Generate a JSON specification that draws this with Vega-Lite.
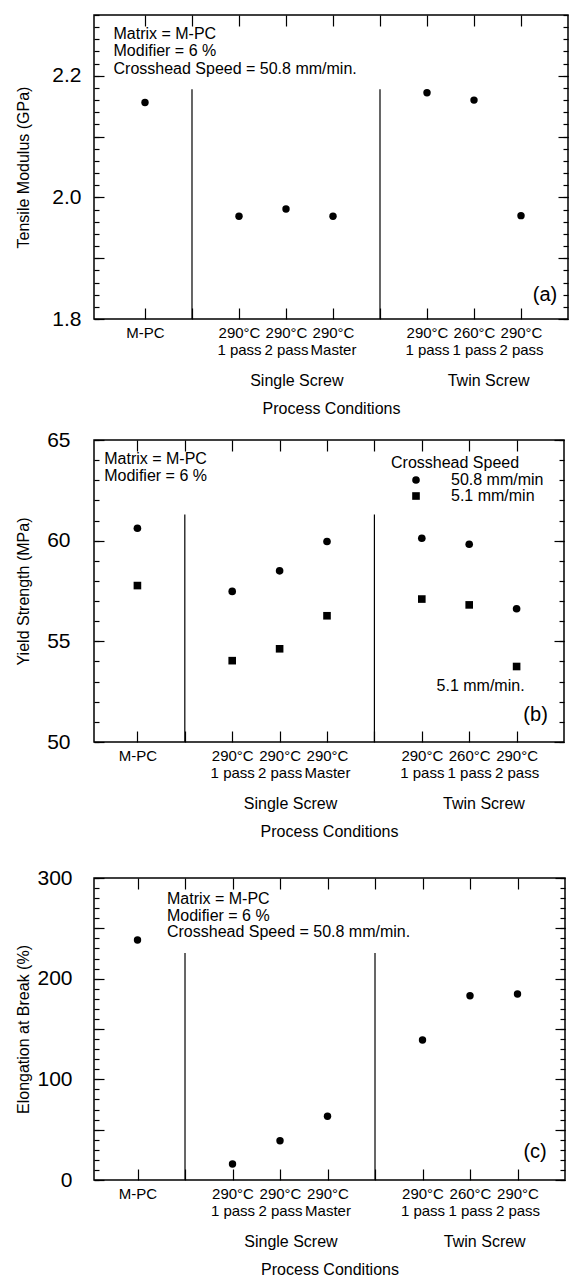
{
  "$schema": "https://vega.github.io/schema/vega-lite/v6.json",
  "padding": {"left": 14, "top": 13, "right": 2, "bottom": 2},
  "background": "white",
  "columns": 1,
  "spacing": 11,
  "resolve": {"scale": {"shape": "independent"}, "legend": {"shape": "independent"}},
  "config": {
    "font": "Liberation Sans",
    "view": {"stroke": "black", "strokeWidth": 1.5},
    "axis": {"domain": false, "grid": false, "tickColor": "black", "tickWidth": 1.2, "labelColor": "black", "titleColor": "black", "titleFontWeight": "normal", "labelFont": "Liberation Sans", "titleFont": "Liberation Sans", "labelFontSize": 16, "titleFontSize": 16, "labelOverlap": false, "labelFlush": false, "labelBound": false},
    "legend": {"labelFont": "Liberation Sans", "titleFont": "Liberation Sans", "labelColor": "black", "titleColor": "black"},
    "text": {"font": "Liberation Sans", "fontSize": 16, "color": "black"}
  },
  "datasets": {
    "tensile": [
      {"condition": "M-PC", "pos": 1, "val": 2.156},
      {"condition": "Single 290C 1 pass", "pos": 3, "val": 1.969},
      {"condition": "Single 290C 2 pass", "pos": 4, "val": 1.981},
      {"condition": "Single 290C Master", "pos": 5, "val": 1.969},
      {"condition": "Twin 290C 1 pass", "pos": 7, "val": 2.172},
      {"condition": "Twin 260C 1 pass", "pos": 8, "val": 2.160},
      {"condition": "Twin 290C 2 pass", "pos": 9, "val": 1.970}
    ],
    "yield": [
      {"condition": "M-PC", "pos": 1, "val": 60.62, "speed": "50.8 mm/min"},
      {"condition": "M-PC", "pos": 1, "val": 57.77, "speed": "5.1 mm/min"},
      {"condition": "Single 290C 1 pass", "pos": 3, "val": 57.48, "speed": "50.8 mm/min"},
      {"condition": "Single 290C 1 pass", "pos": 3, "val": 54.04, "speed": "5.1 mm/min"},
      {"condition": "Single 290C 2 pass", "pos": 4, "val": 58.5, "speed": "50.8 mm/min"},
      {"condition": "Single 290C 2 pass", "pos": 4, "val": 54.63, "speed": "5.1 mm/min"},
      {"condition": "Single 290C Master", "pos": 5, "val": 59.96, "speed": "50.8 mm/min"},
      {"condition": "Single 290C Master", "pos": 5, "val": 56.27, "speed": "5.1 mm/min"},
      {"condition": "Twin 290C 1 pass", "pos": 7, "val": 60.12, "speed": "50.8 mm/min"},
      {"condition": "Twin 290C 1 pass", "pos": 7, "val": 57.1, "speed": "5.1 mm/min"},
      {"condition": "Twin 260C 1 pass", "pos": 8, "val": 59.82, "speed": "50.8 mm/min"},
      {"condition": "Twin 260C 1 pass", "pos": 8, "val": 56.81, "speed": "5.1 mm/min"},
      {"condition": "Twin 290C 2 pass", "pos": 9, "val": 56.62, "speed": "50.8 mm/min"},
      {"condition": "Twin 290C 2 pass", "pos": 9, "val": 53.75, "speed": "5.1 mm/min"}
    ],
    "elong": [
      {"condition": "M-PC", "pos": 1, "val": 238.4},
      {"condition": "Single 290C 1 pass", "pos": 3, "val": 15.9},
      {"condition": "Single 290C 2 pass", "pos": 4, "val": 39.0},
      {"condition": "Single 290C Master", "pos": 5, "val": 63.3},
      {"condition": "Twin 290C 1 pass", "pos": 7, "val": 139.1},
      {"condition": "Twin 260C 1 pass", "pos": 8, "val": 183.1},
      {"condition": "Twin 290C 2 pass", "pos": 9, "val": 184.8}
    ],
    "div_a": [{"pos": 2, "lo": 1.8, "hi": 2.178}, {"pos": 6, "lo": 1.8, "hi": 2.178}],
    "div_b": [{"pos": 2, "lo": 50, "hi": 61.3}, {"pos": 6, "lo": 50, "hi": 61.3}],
    "div_c": [{"pos": 2, "lo": 0, "hi": 225.4}, {"pos": 6, "lo": 0, "hi": 225.4}],
    "notes_a": [
      {"pos": 0.33, "val": 2.269, "text": "Matrix = M-PC"},
      {"pos": 0.33, "val": 2.241, "text": "Modifier = 6 %"},
      {"pos": 0.33, "val": 2.211, "text": "Crosshead Speed = 50.8 mm/min."}
    ],
    "notes_b": [
      {"pos": 0.3, "val": 64.04, "text": "Matrix = M-PC"},
      {"pos": 0.3, "val": 63.21, "text": "Modifier = 6 %"}
    ],
    "notes_c": [
      {"pos": 1.62, "val": 279.1, "text": "Matrix = M-PC"},
      {"pos": 1.62, "val": 262.5, "text": "Modifier = 6 %"},
      {"pos": 1.62, "val": 246.0, "text": "Crosshead Speed = 50.8 mm/min."}
    ],
    "tag_a": [{"pos": 9.51, "val": 1.839, "text": "(a)"}],
    "tag_b": [{"pos": 9.4, "val": 51.34, "text": "(b)"}, {"pos": 8.24, "val": 52.79, "text": "5.1 mm/min."}],
    "tag_c": [{"pos": 9.37, "val": 27.5, "text": "(c)"}]
  },
  "concat": [
    {
      "width": 474,
      "height": 304,
      "layer": [
        {
          "data": {"name": "tensile"},
          "mark": {"type": "point", "filled": true, "shape": "circle", "size": 55, "color": "black", "opacity": 1},
          "encoding": {
            "x": {"field": "pos", "type": "quantitative", "scale": {"domain": [-0.085, 10], "nice": false, "zero": false},
              "axis": {"orient": "bottom", "values": [1, 2, 3, 4, 5, 6, 7, 8, 9], "tickSize": -11, "labelPadding": 17, "labelLineHeight": 17, "labelFontSize": 15, "title": null,
                "labelExpr": "datum.value == 1 ? 'M-PC' : datum.value == 3 ? ['290°C', '1 pass'] : datum.value == 4 ? ['290°C', '2 pass'] : datum.value == 5 ? ['290°C', 'Master'] : datum.value == 7 ? ['290°C', '1 pass'] : datum.value == 8 ? ['260°C', '1 pass'] : datum.value == 9 ? ['290°C', '2 pass'] : ''"}},
            "y": {"field": "val", "type": "quantitative", "scale": {"domain": [1.8, 2.3], "nice": false, "zero": false},
              "axis": {"orient": "left", "values": [1.8, 1.9, 2.0, 2.1, 2.2], "tickSize": -10, "labelFontSize": 21, "labelPadding": 23, "labelExpr": "abs(datum.value*10 - round(datum.value*5)*2) < 0.01 ? format(datum.value, '.1f') : ''", "title": "Tensile Modulus (GPa)", "titlePadding": 20}}
          }
        },
        {
          "data": {"name": "div_a"},
          "mark": {"type": "rule", "color": "black", "strokeWidth": 1.2},
          "encoding": {
            "x": {"field": "pos", "type": "quantitative", "scale": {"domain": [-0.085, 10], "nice": false, "zero": false},
              "axis": {"orient": "bottom", "values": [4.22, 8.3], "ticks": false, "labelPadding": 53, "labelExpr": "datum.value < 6 ? 'Single Screw' : 'Twin Screw'", "title": "Process Conditions", "titlePadding": 12, "titleDx": 57}},
            "y": {"field": "lo", "type": "quantitative", "scale": {"domain": [1.8, 2.3], "nice": false, "zero": false},
              "axis": {"orient": "left", "values": [1.8, 1.82, 1.84, 1.86, 1.88, 1.9, 1.92, 1.94, 1.96, 1.98, 2.0, 2.02, 2.04, 2.06, 2.08, 2.1, 2.12, 2.14, 2.16, 2.18, 2.2, 2.22, 2.24, 2.26, 2.28, 2.3], "tickSize": -5, "labels": false, "title": null}},
            "y2": {"field": "hi"}
          }
        },
        {
          "data": {"name": "notes_a"},
          "mark": {"type": "text", "align": "left", "baseline": "middle", "fontSize": 16},
          "encoding": {
            "x": {"field": "pos", "type": "quantitative", "scale": {"domain": [-0.085, 10], "nice": false, "zero": false},
              "axis": {"orient": "top", "values": [1, 2, 3, 4, 5, 6, 7, 8, 9], "tickSize": -11, "labels": false, "title": null}},
            "y": {"field": "val", "type": "quantitative", "scale": {"domain": [1.8, 2.3], "nice": false, "zero": false},
              "axis": {"orient": "right", "values": [1.8, 1.9, 2.0, 2.1, 2.2], "tickSize": -10, "labels": false, "title": null}},
            "text": {"field": "text"}
          }
        },
        {
          "data": {"name": "tag_a"},
          "mark": {"type": "text", "align": "center", "baseline": "middle", "fontSize": 20},
          "encoding": {
            "x": {"field": "pos", "type": "quantitative", "scale": {"domain": [-0.085, 10], "nice": false, "zero": false}, "axis": null},
            "y": {"field": "val", "type": "quantitative", "scale": {"domain": [1.8, 2.3], "nice": false, "zero": false},
              "axis": {"orient": "right", "values": [1.8, 1.82, 1.84, 1.86, 1.88, 1.9, 1.92, 1.94, 1.96, 1.98, 2.0, 2.02, 2.04, 2.06, 2.08, 2.1, 2.12, 2.14, 2.16, 2.18, 2.2, 2.22, 2.24, 2.26, 2.28, 2.3], "tickSize": -5, "labels": false, "title": null}},
            "text": {"field": "text"}
          }
        }
      ],
      "resolve": {"axis": {"x": "independent", "y": "independent"}}
    },
    {
      "width": 470,
      "height": 302,
      "layer": [
        {
          "data": {"name": "yield"},
          "mark": {"type": "point", "filled": true, "size": 58, "color": "black", "opacity": 1},
          "encoding": {
            "x": {"field": "pos", "type": "quantitative", "scale": {"domain": [0.084, 10], "nice": false, "zero": false},
              "axis": {"orient": "bottom", "values": [1, 2, 3, 4, 5, 6, 7, 8, 9], "tickSize": -11, "labelPadding": 17, "labelLineHeight": 17, "labelFontSize": 15, "title": null,
                "labelExpr": "datum.value == 1 ? 'M-PC' : datum.value == 3 ? ['290°C', '1 pass'] : datum.value == 4 ? ['290°C', '2 pass'] : datum.value == 5 ? ['290°C', 'Master'] : datum.value == 7 ? ['290°C', '1 pass'] : datum.value == 8 ? ['260°C', '1 pass'] : datum.value == 9 ? ['290°C', '2 pass'] : ''"}},
            "y": {"field": "val", "type": "quantitative", "scale": {"domain": [50, 65], "nice": false, "zero": false},
              "axis": {"orient": "left", "values": [50, 55, 60, 65], "tickSize": -10, "labelFontSize": 21, "labelPadding": 34, "title": "Yield Strength (MPa)", "titlePadding": 15}},
            "shape": {"field": "speed", "type": "nominal", "scale": {"domain": ["50.8 mm/min", "5.1 mm/min"], "range": ["circle", "square"]},
              "legend": {"title": "Crosshead Speed", "orient": "none", "legendX": 297, "legendY": 15, "titleFontSize": 16, "titleFontWeight": "normal", "labelFontSize": 16, "symbolSize": 58, "symbolFillColor": "black", "symbolStrokeColor": "black", "symbolOffset": 17, "labelOffset": 27, "rowPadding": 0, "titlePadding": 1}}
          }
        },
        {
          "data": {"name": "div_b"},
          "mark": {"type": "rule", "color": "black", "strokeWidth": 1.2},
          "encoding": {
            "x": {"field": "pos", "type": "quantitative", "scale": {"domain": [0.084, 10], "nice": false, "zero": false},
              "axis": {"orient": "bottom", "values": [4.22, 8.3], "ticks": false, "labelPadding": 53, "labelExpr": "datum.value < 6 ? 'Single Screw' : 'Twin Screw'", "title": ["Process Conditions", " "], "titleLineHeight": 15, "titlePadding": 12, "titleDx": 57}},
            "y": {"field": "lo", "type": "quantitative", "scale": {"domain": [50, 65], "nice": false, "zero": false},
              "axis": {"orient": "left", "values": [50, 51, 52, 53, 54, 55, 56, 57, 58, 59, 60, 61, 62, 63, 64, 65], "tickSize": -5, "labels": false, "title": null}},
            "y2": {"field": "hi"}
          }
        },
        {
          "data": {"name": "notes_b"},
          "mark": {"type": "text", "align": "left", "baseline": "middle", "fontSize": 16},
          "encoding": {
            "x": {"field": "pos", "type": "quantitative", "scale": {"domain": [0.084, 10], "nice": false, "zero": false},
              "axis": {"orient": "top", "values": [1, 2, 3, 4, 5, 6, 7, 8, 9], "tickSize": -11, "labels": false, "title": null}},
            "y": {"field": "val", "type": "quantitative", "scale": {"domain": [50, 65], "nice": false, "zero": false},
              "axis": {"orient": "right", "values": [50, 55, 60, 65], "tickSize": -10, "labels": false, "title": null}},
            "text": {"field": "text"}
          }
        },
        {
          "data": {"name": "tag_b"},
          "mark": {"type": "text", "align": "center", "baseline": "middle"},
          "encoding": {
            "x": {"field": "pos", "type": "quantitative", "scale": {"domain": [0.084, 10], "nice": false, "zero": false}, "axis": null},
            "y": {"field": "val", "type": "quantitative", "scale": {"domain": [50, 65], "nice": false, "zero": false},
              "axis": {"orient": "right", "values": [50, 51, 52, 53, 54, 55, 56, 57, 58, 59, 60, 61, 62, 63, 64, 65], "tickSize": -5, "labels": false, "title": null}},
            "text": {"field": "text"},
            "size": {"condition": {"test": "datum.text == '(b)'", "value": 20}, "value": 16}
          }
        }
      ],
      "resolve": {"axis": {"x": "independent", "y": "independent"}}
    },
    {
      "width": 471,
      "height": 302,
      "layer": [
        {
          "data": {"name": "elong"},
          "mark": {"type": "point", "filled": true, "shape": "circle", "size": 55, "color": "black", "opacity": 1},
          "encoding": {
            "x": {"field": "pos", "type": "quantitative", "scale": {"domain": [0.084, 10], "nice": false, "zero": false},
              "axis": {"orient": "bottom", "values": [1, 2, 3, 4, 5, 6, 7, 8, 9], "tickSize": -11, "labelPadding": 17, "labelLineHeight": 17, "labelFontSize": 15, "title": null,
                "labelExpr": "datum.value == 1 ? 'M-PC' : datum.value == 3 ? ['290°C', '1 pass'] : datum.value == 4 ? ['290°C', '2 pass'] : datum.value == 5 ? ['290°C', 'Master'] : datum.value == 7 ? ['290°C', '1 pass'] : datum.value == 8 ? ['260°C', '1 pass'] : datum.value == 9 ? ['290°C', '2 pass'] : ''"}},
            "y": {"field": "val", "type": "quantitative", "scale": {"domain": [0, 300], "nice": false, "zero": false},
              "axis": {"orient": "left", "values": [0, 50, 100, 150, 200, 250, 300], "tickSize": -10, "labelFontSize": 21, "labelPadding": 32, "labelExpr": "datum.value % 100 == 0 ? datum.label : ''", "title": "Elongation at Break (%)", "titlePadding": 5}}
          }
        },
        {
          "data": {"name": "div_c"},
          "mark": {"type": "rule", "color": "black", "strokeWidth": 1.2},
          "encoding": {
            "x": {"field": "pos", "type": "quantitative", "scale": {"domain": [0.084, 10], "nice": false, "zero": false},
              "axis": {"orient": "bottom", "values": [4.22, 8.3], "ticks": false, "labelPadding": 53, "labelExpr": "datum.value < 6 ? 'Single Screw' : 'Twin Screw'", "title": "Process Conditions", "titlePadding": 12, "titleDx": 57}},
            "y": {"field": "lo", "type": "quantitative", "scale": {"domain": [0, 300], "nice": false, "zero": false},
              "axis": {"orient": "left", "values": [0, 10, 20, 30, 40, 50, 60, 70, 80, 90, 100, 110, 120, 130, 140, 150, 160, 170, 180, 190, 200, 210, 220, 230, 240, 250, 260, 270, 280, 290, 300], "tickSize": -5, "labels": false, "title": null}},
            "y2": {"field": "hi"}
          }
        },
        {
          "data": {"name": "notes_c"},
          "mark": {"type": "text", "align": "left", "baseline": "middle", "fontSize": 16},
          "encoding": {
            "x": {"field": "pos", "type": "quantitative", "scale": {"domain": [0.084, 10], "nice": false, "zero": false},
              "axis": {"orient": "top", "values": [1, 2, 3, 4, 5, 6, 7, 8, 9], "tickSize": -11, "labels": false, "title": null}},
            "y": {"field": "val", "type": "quantitative", "scale": {"domain": [0, 300], "nice": false, "zero": false},
              "axis": {"orient": "right", "values": [0, 50, 100, 150, 200, 250, 300], "tickSize": -10, "labels": false, "title": null}},
            "text": {"field": "text"}
          }
        },
        {
          "data": {"name": "tag_c"},
          "mark": {"type": "text", "align": "center", "baseline": "middle", "fontSize": 20},
          "encoding": {
            "x": {"field": "pos", "type": "quantitative", "scale": {"domain": [0.084, 10], "nice": false, "zero": false}, "axis": null},
            "y": {"field": "val", "type": "quantitative", "scale": {"domain": [0, 300], "nice": false, "zero": false},
              "axis": {"orient": "right", "values": [0, 10, 20, 30, 40, 50, 60, 70, 80, 90, 100, 110, 120, 130, 140, 150, 160, 170, 180, 190, 200, 210, 220, 230, 240, 250, 260, 270, 280, 290, 300], "tickSize": -5, "labels": false, "title": null}},
            "text": {"field": "text"}
          }
        }
      ],
      "resolve": {"axis": {"x": "independent", "y": "independent"}}
    }
  ]
}
